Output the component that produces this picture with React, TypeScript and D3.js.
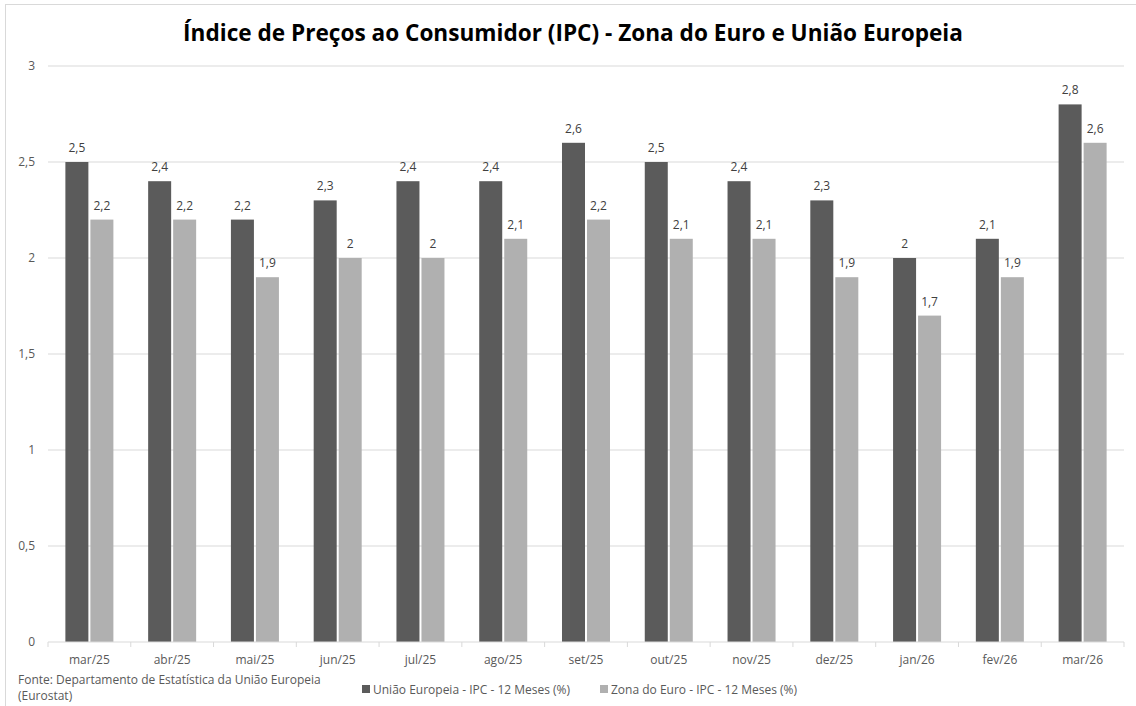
import React, { useEffect, useRef } from 'react';
import * as d3 from 'd3';

const months = ['mar/25', 'abr/25', 'mai/25', 'jun/25', 'jul/25', 'ago/25', 'set/25', 'out/25', 'nov/25', 'dez/25', 'jan/26', 'fev/26', 'mar/26'];
const ueValues = [2.5, 2.4, 2.2, 2.3, 2.4, 2.4, 2.6, 2.5, 2.4, 2.3, 2.0, 2.1, 2.8];
const zeValues = [2.2, 2.2, 1.9, 2.0, 2.0, 2.1, 2.2, 2.1, 2.1, 1.9, 1.7, 1.9, 2.6];
const seriesNames = ['União Europeia - IPC - 12 Meses (%)', 'Zona do Euro - IPC - 12 Meses (%)'];
const yTicks = [0, 0.5, 1, 1.5, 2, 2.5, 3];

const title = 'Índice de Preços ao Consumidor (IPC) - Zona do Euro e União Europeia';
const sourceLines = ['Fonte: Departamento de Estatística da União Europeia', '(Eurostat)'];

const colors = ['#5b5b5b', '#b0b0b0'];
const font = 'Open Sans, Noto Sans, sans-serif';

const fmt = (v: number) => String(v).replace('.', ',');

export default function App() {
  const ref = useRef<SVGSVGElement>(null);

  useEffect(() => {
    const width = 1136;
    const height = 706;
    const svg = d3.select(ref.current);
    svg.html('');
    svg.attr('width', width).attr('height', height);

    svg.append('rect').attr('width', width).attr('height', height).attr('fill', '#fff');
    // chart frame (cut off at right/bottom like the screenshot)
    svg.append('rect')
      .attr('x', 5.5).attr('y', 4.5)
      .attr('width', width + 10).attr('height', height + 10)
      .attr('fill', 'none').attr('stroke', '#d9d9d9');

    const margin = { top: 66, left: 48, bottom: 64, right: 12 };
    const iwidth = width - margin.left - margin.right;
    const iheight = height - margin.top - margin.bottom;

    const g = svg.append('g').attr('transform', `translate(${margin.left},${margin.top})`);

    const y = d3.scaleLinear().domain([0, 3]).range([iheight, 0]);
    const x = d3.scaleBand().domain(months).range([0, iwidth]).paddingInner(0.42).paddingOuter(0.21);
    const x1 = d3.scaleBand().domain(['0', '1']).range([0, x.bandwidth()]).paddingInner(0.08);

    // gridlines
    g.selectAll('line.grid').data(yTicks.filter(t => t > 0)).enter().append('line')
      .attr('x1', 0).attr('x2', iwidth)
      .attr('y1', d => y(d)).attr('y2', d => y(d))
      .attr('stroke', '#d9d9d9').attr('stroke-width', 1.2);

    g.selectAll('text.ytick').data(yTicks).enter().append('text')
      .attr('x', -13).attr('y', d => y(d)).attr('dy', '0.35em')
      .attr('text-anchor', 'end')
      .style('font-family', font).style('font-size', '12px').attr('fill', '#595959')
      .text(d => fmt(d));

    const series = [ueValues, zeValues];
    series.forEach((vals, si) => {
      const data = months.map((m, i) => ({ m, v: vals[i] }));
      g.selectAll(`rect.s${si}`).data(data).enter().append('rect')
        .attr('x', d => (x(d.m) as number) + (x1(String(si)) as number))
        .attr('y', d => y(d.v))
        .attr('width', x1.bandwidth())
        .attr('height', d => iheight - y(d.v))
        .attr('fill', colors[si]);
      g.selectAll(`text.l${si}`).data(data).enter().append('text')
        .attr('x', d => (x(d.m) as number) + (x1(String(si)) as number) + x1.bandwidth() / 2)
        .attr('y', d => y(d.v) - 10)
        .attr('text-anchor', 'middle')
        .style('font-family', font).style('font-size', '12px').attr('fill', '#404040')
        .text(d => fmt(d.v));
    });

    // x axis
    g.append('line').attr('x1', 0).attr('x2', iwidth).attr('y1', iheight).attr('y2', iheight)
      .attr('stroke', '#d9d9d9').attr('stroke-width', 1.2);
    const step = x.step();
    g.selectAll('line.xt').data(d3.range(months.length + 1)).enter().append('line')
      .attr('x1', d => d * step).attr('x2', d => d * step)
      .attr('y1', iheight).attr('y2', iheight + 5)
      .attr('stroke', '#d9d9d9');
    g.selectAll('text.xl').data(months).enter().append('text')
      .attr('x', d => (x(d) as number) + x.bandwidth() / 2)
      .attr('y', iheight + 22)
      .attr('text-anchor', 'middle')
      .style('font-family', font).style('font-size', '12px').attr('fill', '#595959')
      .text(d => d);

    // title
    svg.append('text').attr('x', 573).attr('y', 41).attr('text-anchor', 'middle')
      .style('font-family', font).style('font-size', '22.6px').style('font-weight', 'bold')
      .attr('fill', '#000').text(title);

    // source
    sourceLines.forEach((t, i) => {
      svg.append('text').attr('x', 18).attr('y', 684 + i * 16)
        .style('font-family', font).style('font-size', '12px').attr('fill', '#595959').text(t);
    });

    // legend
    const legX = [362, 600];
    seriesNames.forEach((n, i) => {
      svg.append('rect').attr('x', legX[i]).attr('y', 685).attr('width', 8).attr('height', 8).attr('fill', colors[i]);
      svg.append('text').attr('x', legX[i] + 11).attr('y', 693.5)
        .style('font-family', font).style('font-size', '12px').attr('fill', '#595959').text(n);
    });
  }, []);

  return (
    <div style={{ position: 'absolute', left: 0, top: 0 }}>
      <svg ref={ref}></svg>
    </div>
  );
}
